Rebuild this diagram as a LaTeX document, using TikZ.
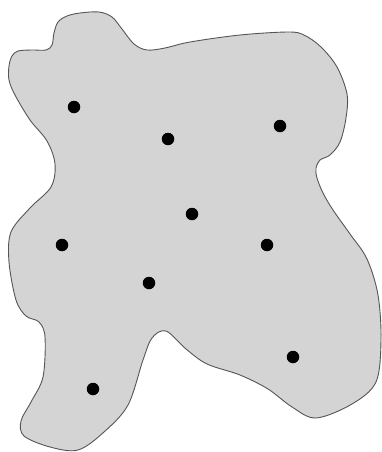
\documentclass[tikz,border=0pt]{standalone}
\usepackage{tikz}

\definecolor{cBlob}{HTML}{D4D4D4}
\definecolor{cEdge}{HTML}{555555}

\begin{document}
\begin{tikzpicture}[x=1pt, y=-1pt,
  region/.style={fill=cBlob, draw=cEdge, line width=0.9pt},
  site/.style={circle, fill=black, inner sep=0pt, minimum size=12.5pt},
]
\useasboundingbox (0,0) rectangle (382,452);

% =================== REGION ===================
\path[region] plot[smooth cycle, tension=0.55] coordinates {
  (54,33) (58,22) (67,16) (80,13) (99,12) (112,17) (122,29) (134,44) (147,50)
  (165,48) (190,42) (240,35) (288,32) (304,35) (321,47) (337,67) (347,94)
  (346,118) (340,142) (330,155) (320,160) (316,168) (317,178) (323,193)
  (333,210) (350,234) (367,259) (378,295) (381,340) (376,382) (352,404)
  (316,418) (292,407) (268,389) (240,375) (207,364) (186,349) (166,331)
  (152,338) (143,360) (128,405) (104,432) (78,450) (50,447) (24,436) (21,421)
  (31,402) (43,377) (45,337) (39,322) (26,316) (16,300) (9,262) (11,232)
  (30,208) (51,187) (55,164) (47,141) (30,120) (15,95) (9,80) (9,66) (12,56)
  (18,51) (32,50) (46,50) (52,45)
};

% =================== SITES ===================
\node[site] (s1) at (74,107) {};
\node[site] (s2) at (168,139) {};
\node[site] (s3) at (280,126) {};
\node[site] (s4) at (192,214) {};
\node[site] (s5) at (62,245) {};
\node[site] (s6) at (267,245) {};
\node[site] (s7) at (149,283) {};
\node[site] (s8) at (293,357) {};
\node[site] (s9) at (93,389) {};

\end{tikzpicture}
\end{document}
